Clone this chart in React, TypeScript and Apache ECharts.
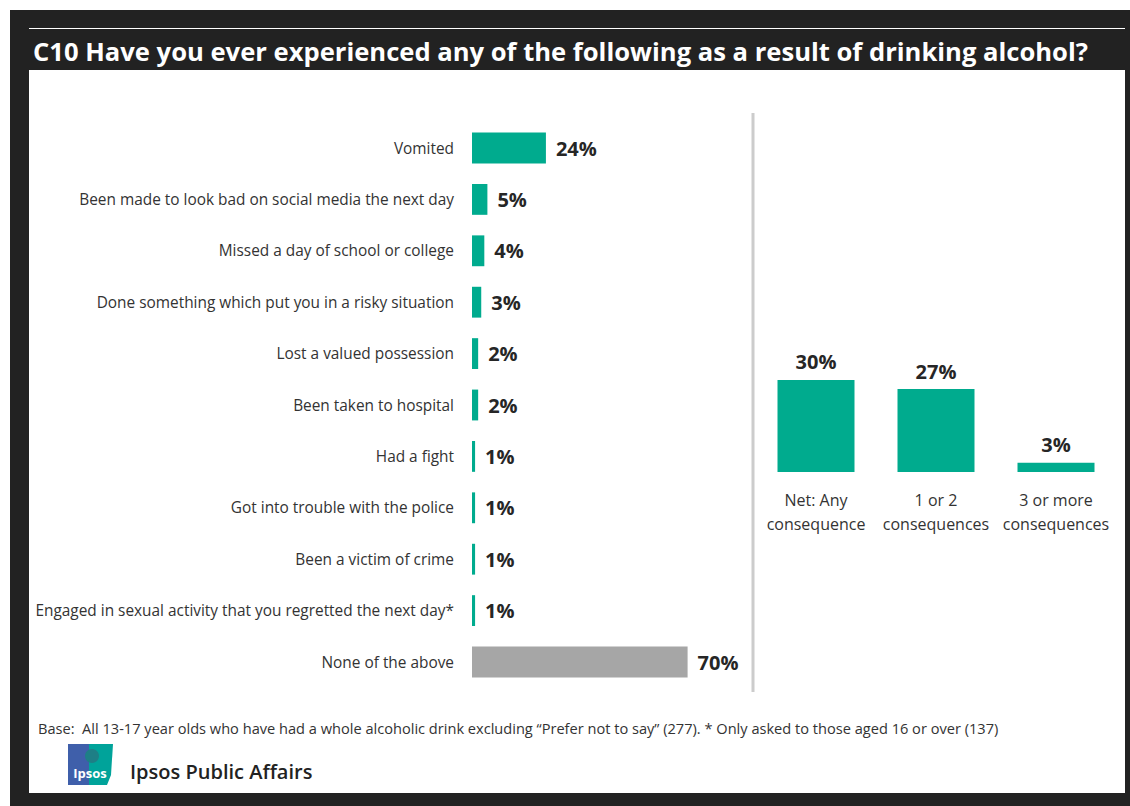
import React, { useEffect, useRef } from "react";
import * as echarts from "echarts";

const titleText = "C10 Have you ever experienced any of the following as a result of drinking alcohol?";
const leftCategories = [
  "Vomited",
  "Been made to look bad on social media the next day",
  "Missed a day of school or college",
  "Done something which put you in a risky situation",
  "Lost a valued possession",
  "Been taken to hospital",
  "Had a fight",
  "Got into trouble with the police",
  "Been a victim of crime",
  "Engaged in sexual activity that you regretted the next day*",
  "None of the above",
];
const leftValues = [24, 5, 4, 3, 2, 2, 1, 1, 1, 1, 70];
const rightCategories = ["Net: Any\nconsequence", "1 or 2\nconsequences", "3 or more\nconsequences"];
const rightValues = [30, 27, 3];
const baseText =
  "Base:  All 13-17 year olds who have had a whole alcoholic drink excluding \u201cPrefer not to say\u201d (277). * Only asked to those aged 16 or over (137)";
const brandText = "Ipsos Public Affairs";

const TEAL = "#00AB8E";
const GREY = "#A6A6A6";
const FONT = "'Open Sans', 'Noto Sans', sans-serif";

export default function App() {
  const ref = useRef<HTMLDivElement>(null);
  useEffect(() => {
    if (!ref.current) return;
    const chart = echarts.init(ref.current, undefined, { renderer: "svg" });
    chart.setOption({
      animation: false,
      backgroundColor: "#ffffff",
      textStyle: { fontFamily: FONT },
      graphic: [
        { type: "rect", z: -10, shape: { x: 10, y: 10, width: 1120, height: 796 }, style: { fill: "#222222" } },
        { type: "rect", z: -9, shape: { x: 29, y: 70, width: 1096, height: 723 }, style: { fill: "#ffffff" } },
        { type: "line", shape: { x1: 29, y1: 28.5, x2: 1125, y2: 28.5 }, style: { stroke: "#ffffff", lineWidth: 1 } },
        {
          type: "text", x: 33, y: 51,
          style: { text: titleText, fill: "#ffffff", font: `bold 25.6px ${FONT}`, verticalAlign: "middle" },
        },
        { type: "line", shape: { x1: 753, y1: 113, x2: 753, y2: 692 }, style: { stroke: "#CCCCCC", lineWidth: 3 } },
        {
          type: "text", x: 38, y: 728,
          style: { text: baseText, fill: "#333333", font: `14.6px ${FONT}`, verticalAlign: "middle" },
        },
        { type: "rect", shape: { x: 68, y: 744, width: 22, height: 41 }, style: { fill: "#3F5FAA" } },
        { type: "polygon", shape: { points: [[89, 744], [113, 744], [111, 775], [107, 785], [89, 785]] }, style: { fill: "#00A39A" } },
        { type: "circle", shape: { cx: 92, cy: 756, r: 7 }, style: { fill: "#1E7F86" } },
        {
          type: "text", x: 90, y: 773,
          style: { text: "Ipsos", fill: "#ffffff", font: `bold 13px ${FONT}`, align: "center", verticalAlign: "middle" },
        },
        {
          type: "text", x: 130, y: 771,
          style: { text: brandText, fill: "#222222", font: `600 20px ${FONT}`, verticalAlign: "middle" },
        },
      ],
      grid: [
        { left: 472, top: 122.3, width: 308, height: 565.4, containLabel: false },
        { left: 756, top: 165, width: 360, height: 307, containLabel: false },
      ],
      xAxis: [
        { gridIndex: 0, type: "value", min: 0, max: 100, show: false },
        {
          gridIndex: 1, type: "category", data: rightCategories,
          axisLine: { show: false }, axisTick: { show: false },
          axisLabel: { interval: 0, color: "#333333", fontSize: 16, lineHeight: 24, margin: 16, fontFamily: FONT },
        },
      ],
      yAxis: [
        {
          gridIndex: 0, type: "category", data: leftCategories, inverse: true,
          axisLine: { show: false }, axisTick: { show: false },
          axisLabel: { interval: 0, color: "#333333", fontSize: 15.4, margin: 18, fontFamily: FONT },
        },
        { gridIndex: 1, type: "value", min: 0, max: 100, show: false },
      ],
      series: [
        {
          type: "bar", xAxisIndex: 0, yAxisIndex: 0, barCategoryGap: "40%",
          data: leftValues.map((v, i) => ({
            value: v,
            itemStyle: { color: i === leftValues.length - 1 ? GREY : TEAL },
          })),
          label: {
            show: true, position: "right", distance: 10, formatter: "{c}%",
            color: "#262626", fontSize: 20, fontWeight: "bold", fontFamily: FONT,
          },
        },
        {
          type: "bar", xAxisIndex: 1, yAxisIndex: 1, barWidth: 77,
          data: rightValues,
          itemStyle: { color: TEAL },
          label: {
            show: true, position: "top", distance: 8, formatter: "{c}%",
            color: "#262626", fontSize: 20, fontWeight: "bold", fontFamily: FONT,
          },
        },
      ],
    });
    return () => chart.dispose();
  }, []);
  return <div ref={ref} style={{ position: "absolute", left: 0, top: 0, width: 1130, height: 806 }} />;
}
